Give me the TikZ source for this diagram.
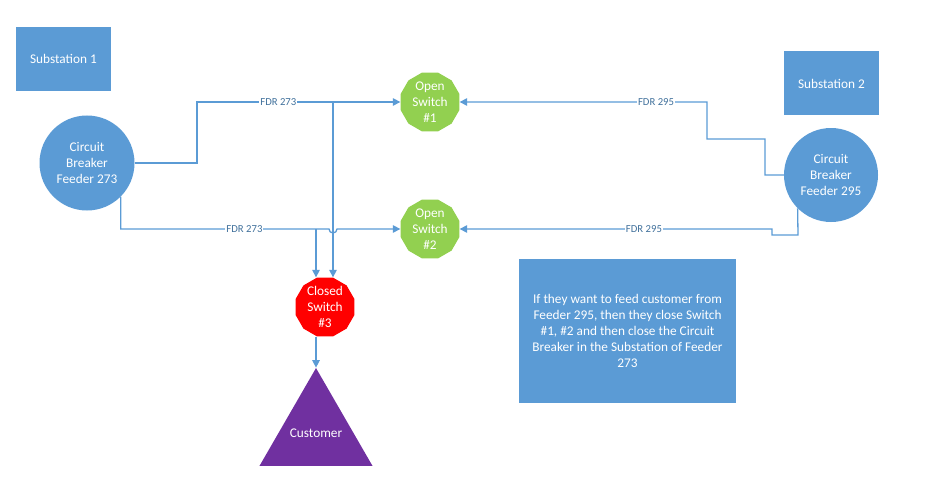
\documentclass[tikz,border=0pt]{standalone}
\usepackage{fontspec}
\setmainfont{Carlito}
\usetikzlibrary{shapes.geometric,arrows.meta,calc}
\definecolor{boxblue}{HTML}{5B9BD5}
\definecolor{linkblue}{HTML}{5B9BD5}
\definecolor{labblue}{HTML}{41719C}
\definecolor{swgreen}{HTML}{92D050}
\definecolor{swred}{HTML}{FF0000}
\definecolor{custpurple}{HTML}{7030A0}
\tikzset{
  base/.style={text=white, font=\fontsize{13.3}{16}\selectfont, align=center, inner sep=0pt},
  subbox/.style={base, rectangle, fill=boxblue, minimum width=95, minimum height=64},
  breaker/.style={base, circle, fill=boxblue, minimum size=95},
  switchshape/.style={base, regular polygon, regular polygon sides=12, minimum size=61},
  custshape/.style={regular polygon, regular polygon sides=3, inner sep=0pt, minimum size=130.5, fill=custpurple},
  notebox/.style={base, rectangle, fill=boxblue, minimum width=217, minimum height=144},
  conn/.style={draw=linkblue, line width=1.3pt, -{Triangle[length=7.5pt,width=7.5pt]}},
  lab/.style={font=\fontsize{10.7}{12}\selectfont, text=labblue, fill=white, inner sep=1pt}
}
\begin{document}
\begin{tikzpicture}[x=1pt,y=-1pt]
\useasboundingbox (0,0) rectangle (928,500);
% nodes
\node[subbox] (sub1) at (63.5,59) {Substation 1};
\node[subbox] (sub2) at (831.5,83.5) {Substation 2};
\node[breaker] (cb1) at (87,163) {Circuit\\Breaker\\Feeder 273};
\node[breaker, minimum size=94] (cb2) at (831,175) {Circuit\\Breaker\\Feeder 295};
\node[switchshape, fill=swgreen] (sw1) at (430,102) {Open\\Switch\\\#1};
\node[switchshape, fill=swgreen] (sw2) at (430,229) {Open\\Switch\\\#2};
\node[switchshape, fill=swred] (sw3) at (325,307) {Closed\\Switch\\\#3};
\node[custshape] (cust) at (316,433.3) {};
\node[base] (custtext) at (cust.center) {Customer};
\node[notebox] (note) at (627.5,331) {If they want to feed customer from\\Feeder 295, then they close Switch\\\#1, \#2 and then close the Circuit\\Breaker in the Substation of Feeder\\273};
% junction coordinates
\coordinate (j1) at (333,102);
\coordinate (j2) at (316,229);
% FDR 273 top
\draw[conn] (cb1.east) -- (197,163) |- node[lab, pos=0.7] {FDR 273} (sw1.west);
% FDR 273 bottom with hop
\draw[conn] (cb1.south east) |- node[lab, pos=0.797] {FDR 273} (329,229)
  arc[start angle=180, end angle=0, radius=4] -- (sw2.west);
% branches to switch 3
\draw[conn] (j1) -- (j1 |- sw3.north);
\draw[conn] (j2) -- (j2 |- sw3.north);
% switch 3 to customer
\draw[conn] (sw3.south -| cust.north) -- (cust.north);
% FDR 295 top
\draw[conn] (cb2.west) -- (765,175) -- (765,139) -- (707,139) -- (707,102) -- node[lab, pos=0.206] {FDR 295} (sw1.east);
% FDR 295 bottom
\draw[conn] (cb2.south west) -- (798,235) -- (772,235) -- (772,229) -- node[lab, pos=0.41] {FDR 295} (sw2.east);
\end{tikzpicture}
\end{document}
